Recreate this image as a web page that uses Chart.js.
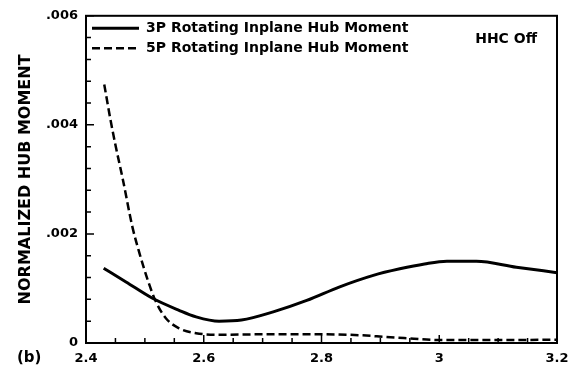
<!DOCTYPE html>
<html>
<head>
<meta charset="utf-8">
<script src="https://cdn.jsdelivr.net/npm/chart.js@4/dist/chart.umd.min.js"></script>
<style>
  html, body { margin: 0; padding: 0; background: #fff; }
  #wrap { width: 574px; height: 375px; }
</style>
</head>
<body>
<div id="wrap"><canvas id="hubchart"></canvas></div>
<script>
// 3P rotating inplane hub moment (solid)
const x3p = [2.43, 2.468, 2.513, 2.558, 2.587, 2.626, 2.664, 2.718, 2.775, 2.831, 2.888, 2.933, 2.975, 3.013, 3.063, 3.131, 3.2]
const y3p = [0.00137, 0.00112, 0.00082, 0.00060, 0.00048, 0.00040, 0.00042, 0.00057, 0.00078, 0.00103, 0.00124, 0.00136, 0.00145, 0.00150, 0.00150, 0.00139, 0.00129]

// 5P rotating inplane hub moment (dashed)
const x5p = [2.431, 2.442, 2.451, 2.462, 2.479, 2.491, 2.505, 2.519, 2.536, 2.558, 2.587, 2.626, 2.7, 2.8, 2.87, 2.91, 2.95, 3.0, 3.1, 3.2]
const y5p = [0.00474, 0.00407, 0.00358, 0.00303, 0.00212, 0.00164, 0.00115, 0.00075, 0.00045, 0.00027, 0.00018, 0.00015, 0.00016, 0.00016, 0.00014, 0.00011, 0.000085, 0.000055, 0.000055, 0.00006]

const seriesNames = ['3P Rotating Inplane Hub Moment', '5P Rotating Inplane Hub Moment']
const yTickStep = 0.002
const xTickStep = 0.2
const yTitle = 'NORMALIZED HUB MOMENT'
const cornerNote = 'HHC Off'
const panelLabel = '(b)'

function toPoints(xs, ys) {
    return xs.map((x, i) => ({x: x, y: ys[i]}))
}

const FONT = "'DejaVu Sans', sans-serif"

// frame + inward tick marks + free text
const framePlugin = {
    id: 'frame',
    afterDraw(chart) {
        const ctx = chart.ctx
        const a = chart.chartArea
        const xs = chart.scales.x
        const ys = chart.scales.y
        ctx.save()
        ctx.strokeStyle = '#000'
        ctx.lineWidth = 2
        ctx.strokeRect(a.left, a.top, a.right - a.left, a.bottom - a.top)

        ctx.lineWidth = 1.5
        ctx.beginPath()
        // y ticks, 5 minor per major
        ys.ticks.forEach((t, i) => {
            const py = ys.getPixelForValue(t.value)
            ctx.moveTo(a.left, py); ctx.lineTo(a.left + 8, py)
            if (i < ys.ticks.length - 1) {
                for (let k = 1; k < 5; k++) {
                    const my = ys.getPixelForValue(t.value + k * yTickStep / 5)
                    ctx.moveTo(a.left, my); ctx.lineTo(a.left + 5, my)
                }
            }
        })
        // x ticks, 4 minor per major
        xs.ticks.forEach((t, i) => {
            const px = xs.getPixelForValue(t.value)
            ctx.moveTo(px, a.bottom); ctx.lineTo(px, a.bottom - 8)
            if (i < xs.ticks.length - 1) {
                for (let k = 1; k < 4; k++) {
                    const mx = xs.getPixelForValue(t.value + k * xTickStep / 4)
                    ctx.moveTo(mx, a.bottom); ctx.lineTo(mx, a.bottom - 5)
                }
            }
        })
        ctx.stroke()

        ctx.fillStyle = '#000'
        ctx.font = 'bold 14px ' + FONT
        ctx.textBaseline = 'middle'
        ctx.textAlign = 'right'
        ctx.fillText(cornerNote, a.right - 20, a.top + 24)
        ctx.font = 'bold 15px ' + FONT
        ctx.textAlign = 'left'
        ctx.fillText(panelLabel, 17, 358)
        ctx.restore()
    }
}

const lineData = {
    datasets: [{
        label: seriesNames[0],
        data: toPoints(x3p, y3p),
        borderColor: '#000',
        backgroundColor: '#000',
        borderWidth: 3,
        pointRadius: 0,
        fill: false,
        cubicInterpolationMode: 'monotone'
    },
        {
            label: seriesNames[1],
            data: toPoints(x5p, y5p),
            borderColor: '#000',
            backgroundColor: '#000',
            borderWidth: 2.5,
            borderDash: [8, 4],
            pointRadius: 0,
            fill: false,
            cubicInterpolationMode: 'monotone'
        }]
}

const options1 = {
    responsive: true,
    maintainAspectRatio: false,
    animation: false,
    layout: {
        padding: {left: 0, right: 17, top: 14, bottom: 0}
    },
    scales: {
        x: {
            type: 'linear',
            min: 2.4,
            max: 3.2,
            grid: {display: false, drawTicks: false},
            border: {display: false},
            ticks: {
                stepSize: xTickStep,
                color: '#000',
                padding: 8,
                maxRotation: 0,
                font: {family: FONT, size: 13, weight: 'bold'},
                callback: (v) => String(Number(v.toFixed(1)))
            },
            afterFit: (s) => {
                s.height = 32
                // let layout.padding alone decide the right edge
                s.paddingLeft = 0
                s.paddingRight = 0
            }
        },
        y: {
            type: 'linear',
            min: 0,
            max: 0.006,
            grid: {display: false, drawTicks: false},
            border: {display: false},
            title: {
                display: true,
                text: yTitle,
                color: '#000',
                font: {family: FONT, size: 16, weight: 'bold'},
                padding: {top: 16, bottom: 0}
            },
            ticks: {
                stepSize: yTickStep,
                color: '#000',
                padding: 8,
                font: {family: FONT, size: 13, weight: 'bold'},
                callback: (v) => v === 0 ? '0' : v.toFixed(3).replace('0.', '.')
            },
            afterFit: (s) => { s.width = 86 }
        }
    },
    plugins: {
        legend: {
            position: 'chartArea',
            align: 'start',
            // empty title only pushes the rows down inside the frame
            title: {display: true, text: '', font: {size: 1}, padding: {top: 14, bottom: 0}},
            labels: {
                color: '#000',
                usePointStyle: true,
                pointStyle: 'line',
                pointStyleWidth: 47,
                padding: 6,
                font: {family: FONT, size: 14, weight: 'bold'},
                generateLabels: (chart) => {
                    const items = Chart.defaults.plugins.legend.labels.generateLabels(chart)
                    items.forEach((it) => {
                        const ds = chart.data.datasets[it.datasetIndex]
                        it.lineDash = ds.borderDash || []
                        it.lineWidth = ds.borderWidth
                    })
                    return items
                }
            }
        },
        tooltip: {enabled: false}
    }
}

var ctx = document.getElementById('hubchart')
window.chart = new Chart(ctx, {
    type: 'line',
    data: lineData,
    options: options1,
    plugins: [framePlugin]
})
</script>
</body>
</html>
